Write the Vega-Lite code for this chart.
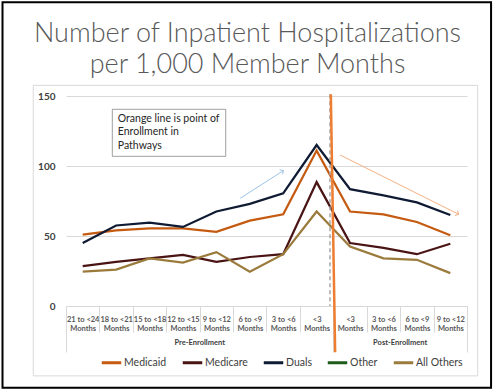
{
  "$schema": "https://vega.github.io/schema/vega-lite/v6.json",
  "width": 401,
  "height": 210,
  "autosize": "none",
  "padding": {"left": 66, "top": 96, "right": 27, "bottom": 84},
  "background": "white",
  "config": {"view": {"stroke": null}, "font": "Lato"},
  "title": {
    "text": ["Number of Inpatient Hospitalizations", "per 1,000 Member Months"],
    "font": "Lato", "fontSize": 27, "fontWeight": 300, "color": "#595959",
    "anchor": "middle", "frame": "group", "dx": -19, "offset": -78, "lineHeight": 31
  },
  "datasets": {
    "inpatient": [
      {"period": "21 to <24 Months (Pre)", "phase": "Pre-Enrollment", "series": "Medicaid", "value": 51},
      {"period": "18 to <21 Months (Pre)", "phase": "Pre-Enrollment", "series": "Medicaid", "value": 54},
      {"period": "15 to <18 Months (Pre)", "phase": "Pre-Enrollment", "series": "Medicaid", "value": 55.5},
      {"period": "12 to <15 Months (Pre)", "phase": "Pre-Enrollment", "series": "Medicaid", "value": 55.5},
      {"period": "9 to <12 Months (Pre)", "phase": "Pre-Enrollment", "series": "Medicaid", "value": 53},
      {"period": "6 to <9 Months (Pre)", "phase": "Pre-Enrollment", "series": "Medicaid", "value": 61},
      {"period": "3 to <6 Months (Pre)", "phase": "Pre-Enrollment", "series": "Medicaid", "value": 65.5},
      {"period": "<3 Months (Pre)", "phase": "Pre-Enrollment", "series": "Medicaid", "value": 111},
      {"period": "<3 Months (Post)", "phase": "Post-Enrollment", "series": "Medicaid", "value": 67.5},
      {"period": "3 to <6 Months (Post)", "phase": "Post-Enrollment", "series": "Medicaid", "value": 65.5},
      {"period": "6 to <9 Months (Post)", "phase": "Post-Enrollment", "series": "Medicaid", "value": 60},
      {"period": "9 to <12 Months (Post)", "phase": "Post-Enrollment", "series": "Medicaid", "value": 50.5},
      {"period": "21 to <24 Months (Pre)", "phase": "Pre-Enrollment", "series": "Medicare", "value": 28.5},
      {"period": "18 to <21 Months (Pre)", "phase": "Pre-Enrollment", "series": "Medicare", "value": 31.5},
      {"period": "15 to <18 Months (Pre)", "phase": "Pre-Enrollment", "series": "Medicare", "value": 34},
      {"period": "12 to <15 Months (Pre)", "phase": "Pre-Enrollment", "series": "Medicare", "value": 36.5},
      {"period": "9 to <12 Months (Pre)", "phase": "Pre-Enrollment", "series": "Medicare", "value": 31.5},
      {"period": "6 to <9 Months (Pre)", "phase": "Pre-Enrollment", "series": "Medicare", "value": 35},
      {"period": "3 to <6 Months (Pre)", "phase": "Pre-Enrollment", "series": "Medicare", "value": 37},
      {"period": "<3 Months (Pre)", "phase": "Pre-Enrollment", "series": "Medicare", "value": 88.5},
      {"period": "<3 Months (Post)", "phase": "Post-Enrollment", "series": "Medicare", "value": 45},
      {"period": "3 to <6 Months (Post)", "phase": "Post-Enrollment", "series": "Medicare", "value": 41.5},
      {"period": "6 to <9 Months (Post)", "phase": "Post-Enrollment", "series": "Medicare", "value": 37},
      {"period": "9 to <12 Months (Post)", "phase": "Post-Enrollment", "series": "Medicare", "value": 44.5},
      {"period": "21 to <24 Months (Pre)", "phase": "Pre-Enrollment", "series": "Duals", "value": 45},
      {"period": "18 to <21 Months (Pre)", "phase": "Pre-Enrollment", "series": "Duals", "value": 57.5},
      {"period": "15 to <18 Months (Pre)", "phase": "Pre-Enrollment", "series": "Duals", "value": 59.5},
      {"period": "12 to <15 Months (Pre)", "phase": "Pre-Enrollment", "series": "Duals", "value": 56.5},
      {"period": "9 to <12 Months (Pre)", "phase": "Pre-Enrollment", "series": "Duals", "value": 67.5},
      {"period": "6 to <9 Months (Pre)", "phase": "Pre-Enrollment", "series": "Duals", "value": 73},
      {"period": "3 to <6 Months (Pre)", "phase": "Pre-Enrollment", "series": "Duals", "value": 80.5},
      {"period": "<3 Months (Pre)", "phase": "Pre-Enrollment", "series": "Duals", "value": 115},
      {"period": "<3 Months (Post)", "phase": "Post-Enrollment", "series": "Duals", "value": 83.5},
      {"period": "3 to <6 Months (Post)", "phase": "Post-Enrollment", "series": "Duals", "value": 79},
      {"period": "6 to <9 Months (Post)", "phase": "Post-Enrollment", "series": "Duals", "value": 74},
      {"period": "9 to <12 Months (Post)", "phase": "Post-Enrollment", "series": "Duals", "value": 65},
      {"period": "21 to <24 Months (Pre)", "phase": "Pre-Enrollment", "series": "All Others", "value": 24.5},
      {"period": "18 to <21 Months (Pre)", "phase": "Pre-Enrollment", "series": "All Others", "value": 26},
      {"period": "15 to <18 Months (Pre)", "phase": "Pre-Enrollment", "series": "All Others", "value": 34},
      {"period": "12 to <15 Months (Pre)", "phase": "Pre-Enrollment", "series": "All Others", "value": 31},
      {"period": "9 to <12 Months (Pre)", "phase": "Pre-Enrollment", "series": "All Others", "value": 38.5},
      {"period": "6 to <9 Months (Pre)", "phase": "Pre-Enrollment", "series": "All Others", "value": 24.5},
      {"period": "3 to <6 Months (Pre)", "phase": "Pre-Enrollment", "series": "All Others", "value": 37},
      {"period": "<3 Months (Pre)", "phase": "Pre-Enrollment", "series": "All Others", "value": 67.5},
      {"period": "<3 Months (Post)", "phase": "Post-Enrollment", "series": "All Others", "value": 42.5},
      {"period": "3 to <6 Months (Post)", "phase": "Post-Enrollment", "series": "All Others", "value": 34},
      {"period": "6 to <9 Months (Post)", "phase": "Post-Enrollment", "series": "All Others", "value": 33},
      {"period": "9 to <12 Months (Post)", "phase": "Post-Enrollment", "series": "All Others", "value": 23.5}
    ]
  },
  "layer": [
    {
      "data": {"name": "inpatient"},
      "mark": {"type": "line", "strokeWidth": 2.25},
      "encoding": {
        "x": {
          "field": "period", "type": "nominal",
          "sort": ["21 to <24 Months (Pre)", "18 to <21 Months (Pre)", "15 to <18 Months (Pre)", "12 to <15 Months (Pre)", "9 to <12 Months (Pre)", "6 to <9 Months (Pre)", "3 to <6 Months (Pre)", "<3 Months (Pre)", "<3 Months (Post)", "3 to <6 Months (Post)", "6 to <9 Months (Post)", "9 to <12 Months (Post)"],
          "scale": {"type": "band", "paddingInner": 0, "paddingOuter": 0},
          "axis": {
            "orient": "bottom", "title": null, "tickBand": "extent", "tickSize": 26, "tickColor": "#D9D9D9",
            "domainColor": "#D9D9D9", "labelAngle": 0, "labelOverlap": false, "labelFlush": false, "labelBound": false,
            "labelExpr": "datum.label == '' ? '' : [split(datum.label, ' Months')[0], 'Months']",
            "labelFont": "Lato", "labelFontSize": 7.5, "labelFontWeight": "bold", "labelColor": "#595959",
            "labelPadding": -17, "labelLineHeight": 9.5, "grid": false
          }
        },
        "y": {
          "field": "value", "type": "quantitative",
          "scale": {"domain": [0, 150], "nice": false},
          "axis": {
            "values": [0, 50, 100, 150], "title": null, "domain": false, "ticks": false, "grid": true,
            "gridColor": "#D9D9D9", "labelFont": "Lato", "labelFontSize": 10, "labelFontWeight": "bold",
            "labelColor": "#404040", "labelPadding": 11
          }
        },
        "color": {
          "field": "series", "type": "nominal",
          "scale": {"domain": ["Medicaid", "Medicare", "Duals", "Other", "All Others"], "range": ["#C55A11", "#4A1414", "#0F1B33", "#1D5B1D", "#9A7B3C"]},
          "legend": {
            "orient": "none", "legendX": 34, "legendY": 255, "direction": "horizontal", "title": null, "symbolType": "stroke",
            "symbolStrokeWidth": 3, "symbolSize": 380, "labelFont": "Lato", "labelFontSize": 10.5,
            "labelColor": "#404040", "columnPadding": 9, "labelOffset": 1
          }
        }
      }
    },
    {
      "data": {"values": [{"left": -1.9, "right": 12.72, "top": 216.9, "bottom": -58.4}]},
      "mark": {"type": "rect", "filled": false, "color": "#000000", "strokeWidth": 2},
      "encoding": {
        "x": {"field": "left", "type": "quantitative", "scale": {"domain": [0, 12], "nice": false, "zero": false}, "axis": null},
        "x2": {"field": "right"},
        "y": {"field": "top", "type": "quantitative", "scale": {"domain": [0, 150], "nice": false}},
        "y2": {"field": "bottom"}
      }
    },
    {
      "data": {"values": [{"left": -0.98, "right": 12.32, "top": 157.6, "bottom": -49.9}]},
      "mark": {"type": "rect", "filled": false, "color": "#D9D9D9", "strokeWidth": 1},
      "encoding": {
        "x": {"field": "left", "type": "quantitative", "scale": {"domain": [0, 12], "nice": false, "zero": false},
          "axis": {"orient": "bottom", "values": [0, 8, 12], "tickSize": 46, "tickColor": "#D9D9D9", "labels": false, "domain": false, "grid": false, "title": null}},
        "x2": {"field": "right"},
        "y": {"field": "top", "type": "quantitative", "scale": {"domain": [0, 150], "nice": false}},
        "y2": {"field": "bottom"}
      }
    },
    {
      "data": {"values": [{"pos": 7.9, "top": 151.2, "bottom": 0}]},
      "mark": {"type": "rule", "color": "#A6A6A6", "strokeWidth": 1.5, "strokeDash": [4, 3]},
      "encoding": {
        "x": {"field": "pos", "type": "quantitative", "scale": {"domain": [0, 12], "nice": false, "zero": false}, "axis": null},
        "y": {"field": "top", "type": "quantitative", "scale": {"domain": [0, 150], "nice": false}},
        "y2": {"field": "bottom"}
      }
    },
    {
      "data": {"name": "inpatient"},
      "mark": {"type": "rule", "opacity": 0},
      "encoding": {
        "x": {
          "field": "phase", "type": "nominal",
          "scale": {"type": "band", "domain": ["Pre-Enrollment", "Post-Enrollment"], "paddingInner": 0.33333, "paddingOuter": 0.166667, "align": 1},
          "axis": {
            "orient": "bottom", "title": null, "ticks": false, "domain": false, "grid": false, "labelAngle": 0,
            "labelFont": "Lato", "labelFontSize": 7.5, "labelFontWeight": "bold", "labelColor": "#404040", "labelPadding": 32
          }
        }
      }
    },
    {
      "data": {"values": [{"x0": 7.925, "x1": 8.054, "top": 151.2, "bottom": -33}]},
      "mark": {"type": "rule", "color": "#ED7D31", "strokeWidth": 2.5},
      "encoding": {
        "x": {"field": "x0", "type": "quantitative", "scale": {"domain": [0, 12], "nice": false, "zero": false}, "axis": null},
        "x2": {"field": "x1"},
        "y": {"field": "top", "type": "quantitative", "scale": {"domain": [0, 150], "nice": false}},
        "y2": {"field": "bottom"}
      }
    },
    {
      "data": {"values": [{"x0": 5.21, "x1": 6.506, "y0": 76.9, "y1": 96.7}]},
      "mark": {"type": "rule", "color": "#9DC3E6", "strokeWidth": 1},
      "encoding": {
        "x": {"field": "x0", "type": "quantitative", "scale": {"domain": [0, 12], "nice": false, "zero": false}, "axis": null},
        "x2": {"field": "x1"},
        "y": {"field": "y0", "type": "quantitative", "scale": {"domain": [0, 150], "nice": false}},
        "y2": {"field": "y1"}
      }
    },
    {
      "data": {"values": [{"x1": 6.506, "y1": 96.7}]},
      "mark": {"type": "point", "shape": "M-1,1L0,0L1,1", "filled": false, "color": "#9DC3E6", "strokeWidth": 1, "size": 30, "angle": 57, "opacity": 1},
      "encoding": {
        "x": {"field": "x1", "type": "quantitative", "scale": {"domain": [0, 12], "nice": false, "zero": false}, "axis": null},
        "y": {"field": "y1", "type": "quantitative", "scale": {"domain": [0, 150], "nice": false}}
      }
    },
    {
      "data": {"values": [{"x0": 8.2, "x1": 11.75, "y0": 107.9, "y1": 65.5}]},
      "mark": {"type": "rule", "color": "#F4B183", "strokeWidth": 1},
      "encoding": {
        "x": {"field": "x0", "type": "quantitative", "scale": {"domain": [0, 12], "nice": false, "zero": false}, "axis": null},
        "x2": {"field": "x1"},
        "y": {"field": "y0", "type": "quantitative", "scale": {"domain": [0, 150], "nice": false}},
        "y2": {"field": "y1"}
      }
    },
    {
      "data": {"values": [{"x1": 11.75, "y1": 65.5}]},
      "mark": {"type": "point", "shape": "M-1,1L0,0L1,1", "filled": false, "color": "#F4B183", "strokeWidth": 1, "size": 30, "angle": 116.6, "opacity": 1},
      "encoding": {
        "x": {"field": "x1", "type": "quantitative", "scale": {"domain": [0, 12], "nice": false, "zero": false}, "axis": null},
        "y": {"field": "y1", "type": "quantitative", "scale": {"domain": [0, 150], "nice": false}}
      }
    },
    {
      "data": {"values": [{"left": 1.386, "right": 4.78, "top": 140.5, "bottom": 106.9}]},
      "mark": {"type": "rect", "fill": "#FFFFFF", "stroke": "#7F7F7F", "strokeWidth": 0.75},
      "encoding": {
        "x": {"field": "left", "type": "quantitative", "scale": {"domain": [0, 12], "nice": false, "zero": false}, "axis": null},
        "x2": {"field": "right"},
        "y": {"field": "top", "type": "quantitative", "scale": {"domain": [0, 150], "nice": false}},
        "y2": {"field": "bottom"}
      }
    },
    {
      "data": {"values": [{"note": "Orange line is point of|Enrollment  in|Pathways", "left": 1.55, "top": 137.2}]},
      "mark": {"type": "text", "align": "left", "baseline": "top", "lineBreak": "|", "font": "Lato", "fontSize": 10.5, "lineHeight": 13.5, "color": "#262626"},
      "encoding": {
        "x": {"field": "left", "type": "quantitative", "scale": {"domain": [0, 12], "nice": false, "zero": false}, "axis": null},
        "y": {"field": "top", "type": "quantitative", "scale": {"domain": [0, 150], "nice": false}},
        "text": {"field": "note"}
      }
    }
  ],
  "resolve": {"scale": {"x": "independent"}}
}
